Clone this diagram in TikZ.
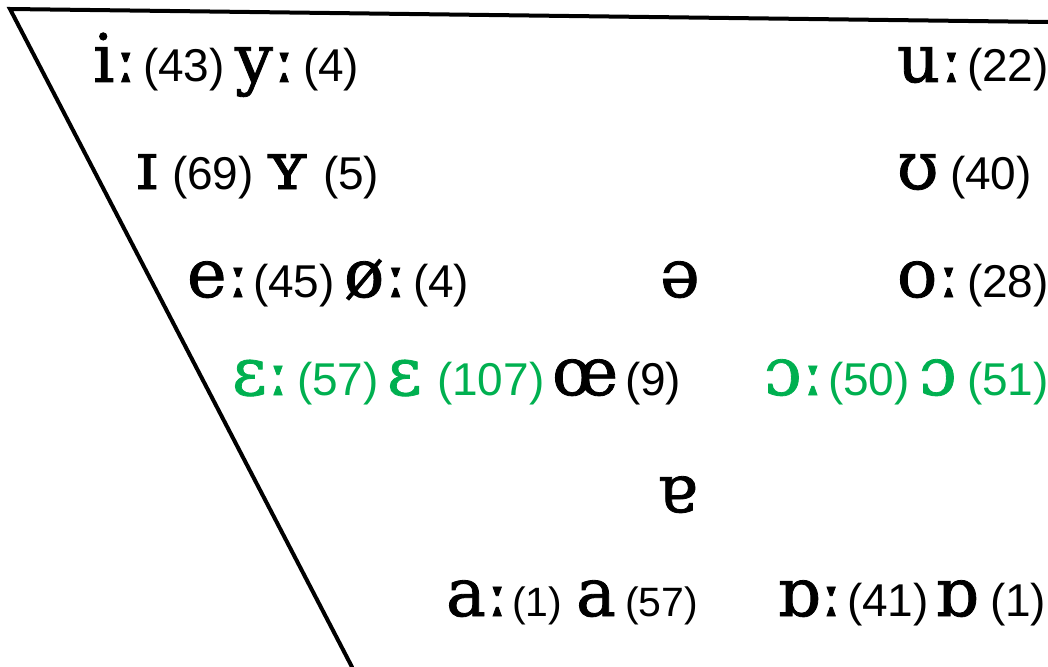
\documentclass[tikz,border=0pt]{standalone}
\usepackage{fontspec}
\newfontfamily\ipafont{DejaVu Serif}[FakeBold=1.2]
\newfontfamily\numfont{Liberation Sans}
\definecolor{vgreen}{HTML}{00B050}
\begin{document}
\begin{tikzpicture}[x=1pt,y=-1pt,
  every node/.style={inner sep=0pt,outer sep=0pt,anchor=base west},
  ipa/.style={font=\ipafont\fontsize{67}{67}\selectfont},
  num/.style={font=\numfont\fontsize{46}{46}\selectfont},
  numsm/.style={font=\numfont\fontsize{41}{41}\selectfont},
  grn/.style={text=vgreen},
  chart/.style={line width=4pt,line cap=round}]
\useasboundingbox (0,0) rectangle (1048,666);
\coordinate (tl) at (10,9);
\coordinate (tr) at (1048,22);
\coordinate (bl) at (352,667);
\draw[chart] (tr) -- (tl) -- (bl);
% row 1
\node[ipa] (i1) at (93,82) {iː};
\node[num] (n1) at (143,82) {(43)};
\node[ipa] (y1) at (235,82) {yː};
\node[num] (n2) at (303,82) {(4)};
\node[ipa] (u1) at (897,82) {uː};
\node[num] (n3) at (967,82) {(22)};
% row 2
\node[ipa] (i2) at (136,189) {ɪ};
\node[num] (n4) at (172,189) {(69)};
\node[ipa] (y2) at (265,189) {ʏ};
\node[num] (n5) at (323,189) {(5)};
\node[ipa] (u2) at (897,189) {ʊ};
\node[num] (n6) at (950,189) {(40)};
% row 3
\node[ipa] (e1) at (187,297) {eː};
\node[num] (n7) at (253,297) {(45)};
\node[ipa] (o1) at (344,297) {øː};
\node[num] (n8) at (413,297) {(4)};
\node[ipa] (schwa) at (660,297) {ə};
\node[ipa] (o2) at (897,297) {oː};
\node[num] (n9) at (967,297) {(28)};
% row 4
\node[ipa,grn] (E1) at (232,395) {ɛː};
\node[num,grn] (n10) at (297,395) {(57)};
\node[ipa,grn] (E2) at (387,395) {ɛ};
\node[num,grn] (n11) at (437,395) {(107)};
\node[ipa] (oe) at (552,395) {œ};
\node[num] (n12) at (625,395) {(9)};
\node[ipa,grn] (O1) at (764,395) {ɔː};
\node[num,grn] (n13) at (828,395) {(50)};
\node[ipa,grn] (O2) at (919,395) {ɔ};
\node[num,grn] (n14) at (967,395) {(51)};
% row 5
\node[ipa] (turna) at (657,512) {ɐ};
% row 6
\node[ipa] (a1) at (446,616) {aː};
\node[numsm] (n15) at (512,616) {(1)};
\node[ipa] (a2) at (576,616) {a};
\node[numsm] (n16) at (625,616) {(57)};
\node[ipa] (b1) at (777,616) {ɒː};
\node[num] (n17) at (847,616) {(41)};
\node[ipa] (b2) at (935,616) {ɒ};
\node[num] (n18) at (990,616) {(1)};
\end{tikzpicture}
\end{document}
